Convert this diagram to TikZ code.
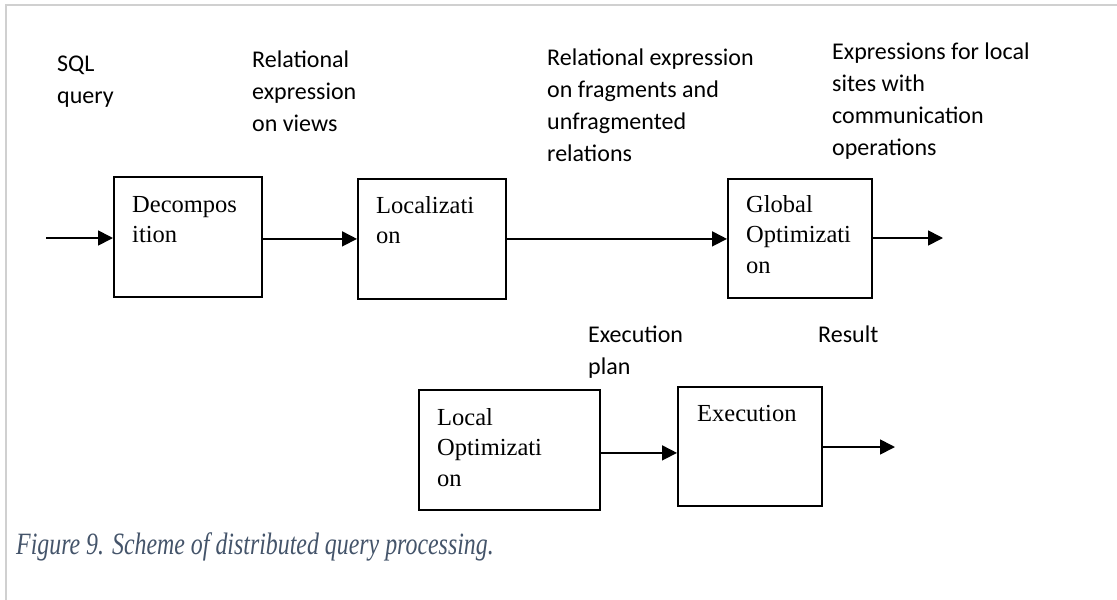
\documentclass[tikz,border=0pt]{standalone}
\usepackage{fontspec}
\setmainfont{Liberation Serif}
\newfontfamily\calfont{Carlito}
\usetikzlibrary{arrows.meta}
\definecolor{capcol}{RGB}{68,84,106}
\definecolor{framecol}{RGB}{208,208,208}
\newcommand\ml[1]{\begin{tabular}[t]{@{}l@{}}#1\end{tabular}}
\begin{document}
\begin{tikzpicture}[x=1pt,y=-1pt,
  box/.style={draw, line width=1.8pt, rectangle, anchor=north west, inner sep=0pt},
  boxtxt/.style={anchor=base west, inner sep=0pt, font=\fontsize{24.5}{30.5}\selectfont},
  lbl/.style={anchor=base west, inner sep=0pt, font=\calfont\fontsize{24}{32}\selectfont},
  arr/.style={line width=1.7pt, -{Triangle[length=15pt,width=15pt]}}]
\useasboundingbox (0,0) rectangle (1117,600);
\fill[white] (0,0) rectangle (1117,600);
% frame
\draw[framecol, line width=2pt] (6,600) -- (6,5) -- (1117,5);
% boxes
\node[box, minimum width=148pt, minimum height=120pt] (dec) at (113,176) {};
\node[box, minimum width=148pt, minimum height=120pt] (loc) at (357,178) {};
\node[box, minimum width=144pt, minimum height=119pt] (glo) at (727,178) {};
\node[box, minimum width=181pt, minimum height=120pt] (lopt) at (418,389) {};
\node[box, minimum width=144pt, minimum height=119pt] (exe) at (677,386) {};
% box texts
\node[boxtxt] (dect) at ([shift={(19,36)}]dec.north west) {\ml{Decompos\\ition}};
\node[boxtxt] (loct) at ([shift={(19,35)}]loc.north west) {\ml{Localizati\\on}};
\node[boxtxt] (glot) at ([shift={(19,34)}]glo.north west) {\ml{Global\\Optimizati\\on}};
\node[boxtxt] (loptt) at ([shift={(19,36)}]lopt.north west) {\ml{Local\\Optimizati\\on}};
\node[boxtxt] (exet) at ([shift={(20,35)}]exe.north west) {Execution};
% labels
\node[lbl] (l1) at (57,71) {\ml{SQL\\query}};
\node[lbl] (l2) at (252,67) {\ml{Relational\\expression\\on views}};
\node[lbl] (l3) at (547,65) {\ml{Relational expression\\on fragments and\\unfragmented\\relations}};
\node[lbl] (l4) at (832,59) {\ml{Expressions for local\\sites with\\communication\\operations}};
\node[lbl] (l5) at (588,342) {\ml{Execution\\plan}};
\node[lbl] (l6) at (818,342) {Result};
% connectors
\coordinate (in) at (46,238);
\coordinate (out1) at (943,238);
\coordinate (out2) at (895,447);
\draw[arr] (in) -- (in -| dec.west);
\draw[arr] (dec.east |- loc.west) -- (loc.west);
\draw[arr] (loc.east) -- (loc.east -| glo.west);
\draw[arr] (out1 -| glo.east) -- (out1);
\draw[arr] ([yshift=-3pt]lopt.east) -- ([yshift=-3pt]lopt.east -| exe.west);
\draw[arr] (out2 -| exe.east) -- (out2);
% caption
\node[anchor=base west, inner sep=0pt, text=capcol, font=\fontsize{31}{36}\selectfont\itshape] (cap) at (16,554)
  {\scalebox{0.77}[1]{Figure 9. Scheme of distributed query processing.}};
\end{tikzpicture}
\end{document}
